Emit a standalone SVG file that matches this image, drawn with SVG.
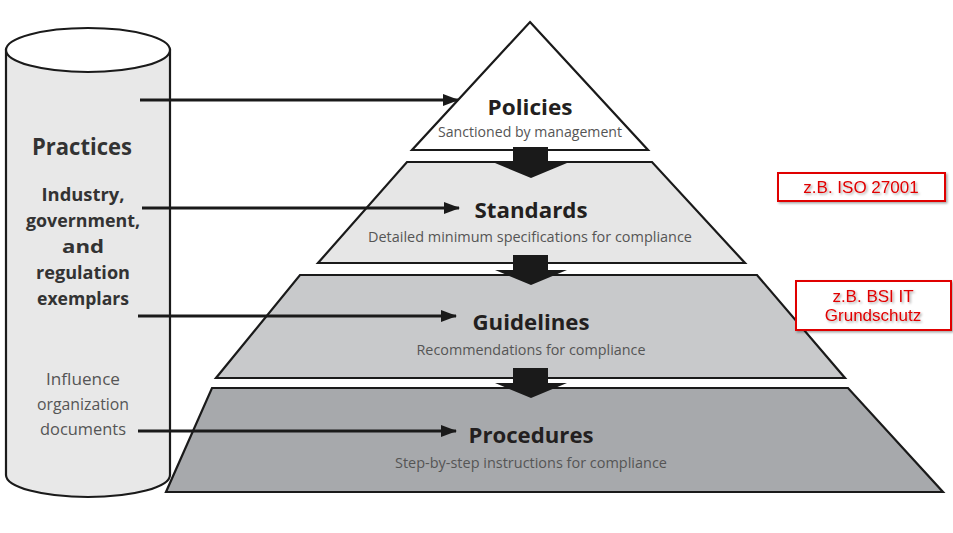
<svg xmlns="http://www.w3.org/2000/svg" width="953" height="533" viewBox="0 0 953 533">
<defs>
<marker id="ah" markerWidth="16" markerHeight="12" refX="15" refY="6" orient="auto" markerUnits="userSpaceOnUse"><path d="M0,0 L16,6 L0,12 z" fill="#1a1a1a"/></marker>
<filter id="sh" x="-10%" y="-20%" width="130%" height="150%"><feDropShadow dx="1.5" dy="1.5" stdDeviation="1" flood-color="#000" flood-opacity="0.35"/></filter>
<style>
.layer{stroke:#1a1a1a;stroke-width:2.2;stroke-linejoin:miter}
.title{font-family:"Open Sans","DejaVu Sans",sans-serif;font-weight:bold;fill:#231f20;text-anchor:middle}
.sub{font-family:"Open Sans","DejaVu Sans",sans-serif;fill:#555;text-anchor:middle;font-size:14px}
.cyl{font-family:"Open Sans","DejaVu Sans",sans-serif;text-anchor:middle}
.conn{stroke:#1a1a1a;stroke-width:3;fill:none}
.down{fill:#1a1a1a}
.rbox{fill:#fff;stroke:#e00000;stroke-width:2}
.rtxt{font-family:"Liberation Sans",Arial,sans-serif;fill:#e00000;font-size:17px;text-anchor:middle}
</style>
</defs>
<rect width="953" height="533" fill="#fff"/>
<g id="procedures">
<polygon class="layer" points="212,388 848,388 943,492 166,492" fill="#a7a9ac"/>
<text class="title" x="531" y="443" font-size="22" textLength="125" lengthAdjust="spacingAndGlyphs">Procedures</text>
<text class="sub" x="531" y="468" textLength="272" lengthAdjust="spacingAndGlyphs">Step-by-step instructions for compliance</text>
</g>
<g id="guidelines">
<polygon class="layer" points="300,275 757,275 845,378 216,378" fill="#c8c9cb"/>
<text class="title" x="531" y="330" font-size="22" textLength="117" lengthAdjust="spacingAndGlyphs">Guidelines</text>
<text class="sub" x="531" y="355" textLength="229" lengthAdjust="spacingAndGlyphs">Recommendations for compliance</text>
</g>
<g id="standards">
<polygon class="layer" points="407,162 652,162 745,263 318,263" fill="#e6e6e6"/>
<text class="title" x="531" y="218" font-size="22" textLength="113" lengthAdjust="spacingAndGlyphs">Standards</text>
<text class="sub" x="530" y="242" textLength="324" lengthAdjust="spacingAndGlyphs">Detailed minimum specifications for compliance</text>
</g>
<g id="policies">
<polygon class="layer" points="530,22 648,150 412,150" fill="#fff"/>
<text class="title" x="530" y="115" font-size="22" textLength="85" lengthAdjust="spacingAndGlyphs">Policies</text>
<text class="sub" x="530" y="137" textLength="184" lengthAdjust="spacingAndGlyphs">Sanctioned by management</text>
</g>
<g id="flow-arrows">
<path class="down" d="M513,147 H548 V163 H567 L531,178 L495,163 H513 Z"/>
<path class="down" d="M513,255 H548 V270 H567 L531,285 L495,270 H513 Z"/>
<path class="down" d="M513,368 H548 V383 H567 L531,398 L495,383 H513 Z"/>
</g>
<g id="practices">
<path d="M6,50 V475 A82,22 0 0 0 170,475 V50 Z" fill="#e8e8e8" stroke="#1a1a1a" stroke-width="2.2"/>
<ellipse cx="88" cy="50" rx="82" ry="22" fill="#fff" stroke="#1a1a1a" stroke-width="2.2"/>
<text class="cyl" x="82" y="155" font-size="24" font-weight="bold" fill="#333" textLength="100" lengthAdjust="spacingAndGlyphs">Practices</text>
<text class="cyl" x="83" y="201" font-size="18" font-weight="bold" fill="#333" textLength="83" lengthAdjust="spacingAndGlyphs">Industry,</text>
<text class="cyl" x="83" y="227" font-size="18" font-weight="bold" fill="#333" textLength="114" lengthAdjust="spacingAndGlyphs">government,</text>
<text class="cyl" x="83" y="253" font-size="18" font-weight="bold" fill="#333" textLength="42" lengthAdjust="spacingAndGlyphs">and</text>
<text class="cyl" x="83" y="279" font-size="18" font-weight="bold" fill="#333" textLength="94" lengthAdjust="spacingAndGlyphs">regulation</text>
<text class="cyl" x="83" y="305" font-size="18" font-weight="bold" fill="#333" textLength="92" lengthAdjust="spacingAndGlyphs">exemplars</text>
<text class="cyl" x="83" y="385" font-size="17" fill="#555" textLength="74" lengthAdjust="spacingAndGlyphs">Influence</text>
<text class="cyl" x="83" y="410" font-size="17" fill="#555" textLength="92" lengthAdjust="spacingAndGlyphs">organization</text>
<text class="cyl" x="83" y="435" font-size="17" fill="#555" textLength="86" lengthAdjust="spacingAndGlyphs">documents</text>
</g>
<g id="connectors">
<line class="conn" x1="140" y1="100" x2="458" y2="100" marker-end="url(#ah)"/>
<line class="conn" x1="142" y1="208" x2="459" y2="208" marker-end="url(#ah)"/>
<line class="conn" x1="138" y1="316" x2="456" y2="316" marker-end="url(#ah)"/>
<line class="conn" x1="138" y1="431" x2="456" y2="431" marker-end="url(#ah)"/>
</g>
<g id="note-iso">
<rect class="rbox" x="778" y="173" width="167" height="28" filter="url(#sh)"/>
<text class="rtxt" x="861" y="193" filter="url(#sh)">z.B. ISO 27001</text>
</g>
<g id="note-bsi">
<rect class="rbox" x="796" y="281" width="155" height="49" filter="url(#sh)"/>
<text class="rtxt" x="873" y="302" filter="url(#sh)">z.B. BSI IT</text>
<text class="rtxt" x="873" y="321" filter="url(#sh)">Grundschutz</text>
</g>
</svg>
